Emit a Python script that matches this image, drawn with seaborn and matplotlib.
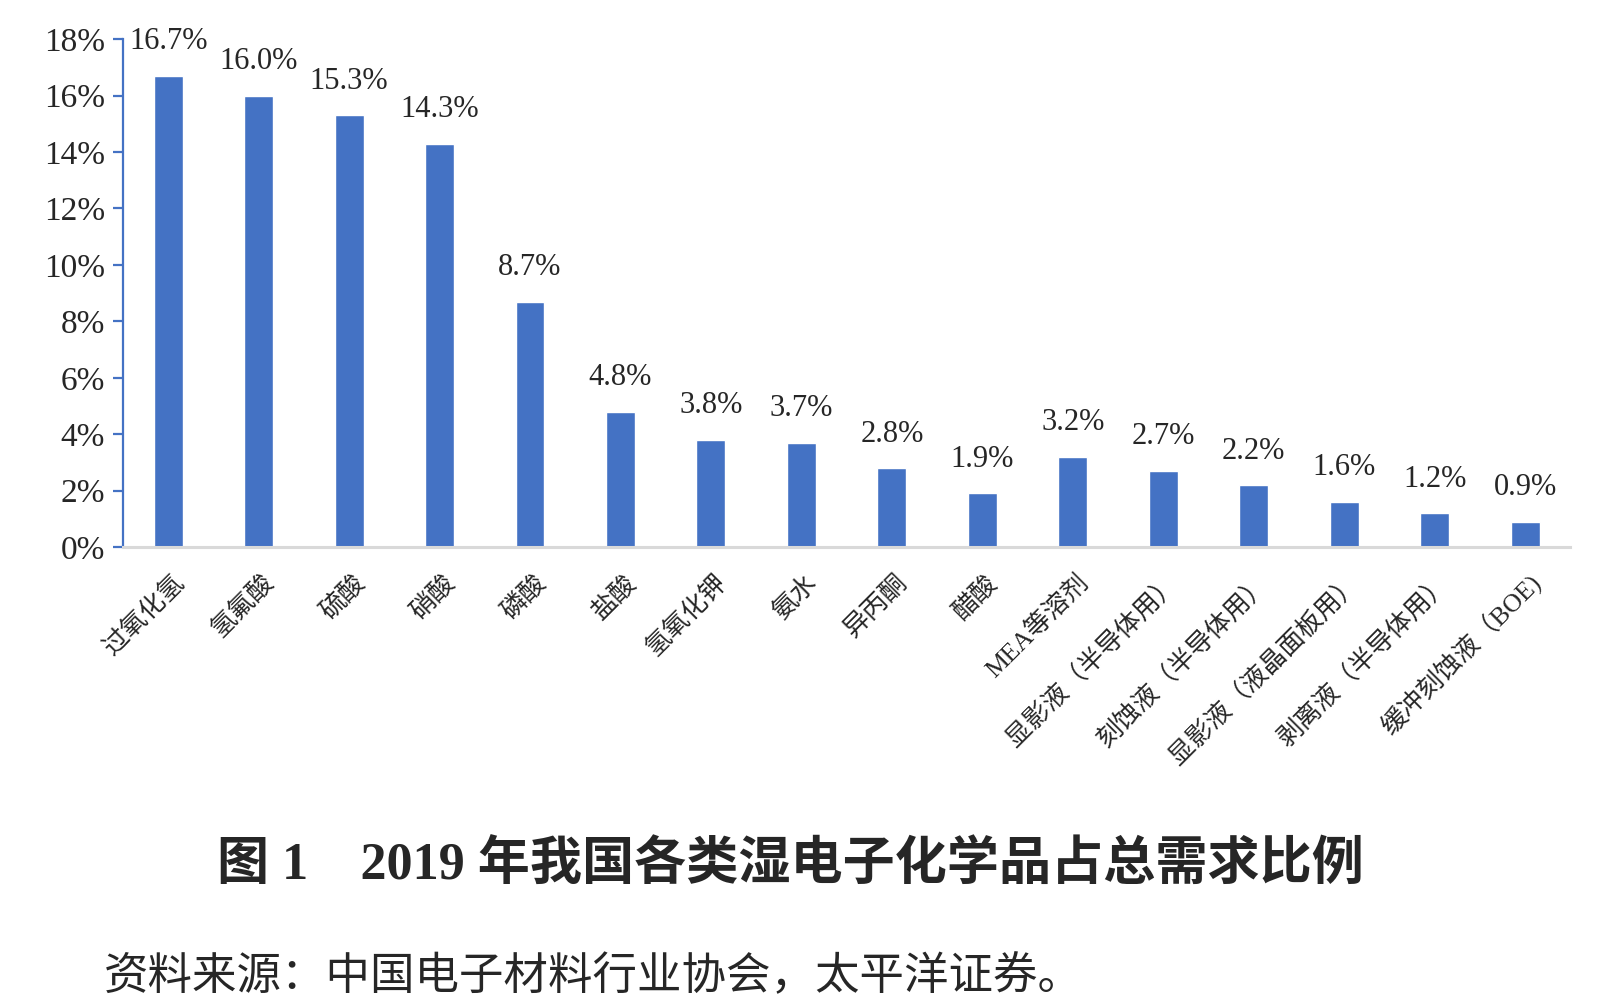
import seaborn as sns
from matplotlib import pyplot as plt
from matplotlib.transforms import ScaledTranslation
import numpy as np

categories = ['过氧化氢', '氢氟酸', '硫酸', '硝酸', '磷酸', '盐酸', '氢氧化钾', '氨水',
              '异丙酮', '醋酸', 'MEA等溶剂', '显影液（半导体用）', '刻蚀液（半导体用）',
              '显影液（液晶面板用）', '剥离液（半导体用）', '缓冲刻蚀液（BOE)']
shares = [16.7, 16.0, 15.3, 14.3, 8.7, 4.8, 3.8, 3.7, 2.8, 1.9, 3.2, 2.7, 2.2, 1.6, 1.2, 0.9]
yticks = [0, 2, 4, 6, 8, 10, 12, 14, 16, 18]

title = '图 1　2019 年我国各类湿电子化学品占总需求比例'
source = '资料来源：中国电子材料行业协会，太平洋证券。'

BLUE = '#4472C4'
FONTS = ['Liberation Serif', 'Noto Sans CJK SC', 'DejaVu Sans']


def main():
    sns.set_style('white')
    plt.rcParams['font.family'] = FONTS
    fig = plt.figure(figsize=(16.01, 10.02), dpi=100)
    ax = fig.add_axes([0.0768, 0.454, 0.904, 0.507])

    sns.barplot(x=categories, y=shares, color=BLUE, saturation=1, width=0.32, ax=ax)
    ax.bar_label(ax.containers[0], labels=[f'{v:.1f}%' for v in shares],
                 padding=14, fontsize=22, family=FONTS)

    ax.set_xlim(-0.5, len(categories) - 0.5)
    ax.set_ylim(0, 18)
    ax.set_yticks(yticks)
    ax.set_yticklabels([f'{t}%' for t in yticks], fontsize=24)
    ax.tick_params(axis='y', direction='out', length=7, width=1.6, color=BLUE, pad=6, left=True)
    ax.tick_params(axis='x', length=0, pad=23)
    ax.set_xticks(range(len(categories)))
    ax.set_xticklabels(categories, rotation=45, ha='right', va='center',
                       rotation_mode='anchor', fontsize=18.5)
    shift = ScaledTranslation(0.12, 0, fig.dpi_scale_trans)
    for lbl in ax.get_xticklabels():
        lbl.set_transform(lbl.get_transform() + shift)

    for s in ['top', 'right']:
        ax.spines[s].set_visible(False)
    ax.spines['left'].set_color(BLUE)
    ax.spines['left'].set_linewidth(1.6)
    ax.spines['bottom'].set_color('#D9D9D9')
    ax.spines['bottom'].set_linewidth(2.2)
    ax.set_xlabel('')
    ax.set_ylabel('')

    fig.text(0.494, 0.136, title, ha='center', va='center', fontsize=37.5,
             fontweight='bold', family=FONTS)
    fig.text(0.065, 0.025, source, ha='left', va='center', fontsize=32, family=FONTS)

    fig.savefig('out.png', dpi=100)


if __name__ == '__main__':
    main()
